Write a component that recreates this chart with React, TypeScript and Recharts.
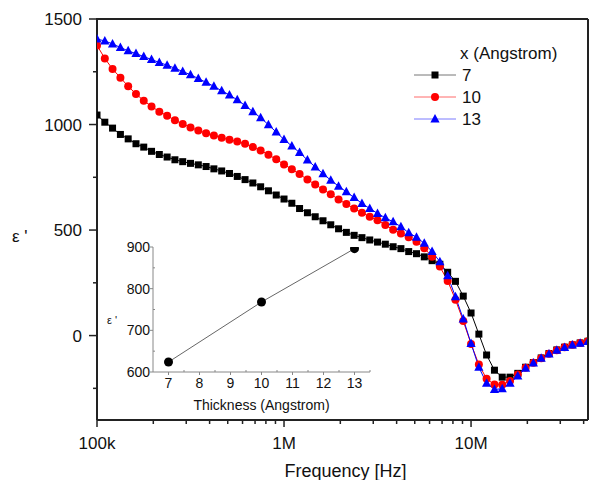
import React from 'react';
import { LineChart, Line, XAxis, YAxis } from 'recharts';

// frequency sweep (Hz), 24 points per decade
const freqs = [
  1.0e5, 1.101e5, 1.211e5, 1.334e5, 1.468e5, 1.616e5, 1.778e5, 1.957e5, 2.154e5, 2.371e5, 2.61e5, 2.873e5,
  3.162e5, 3.481e5, 3.831e5, 4.217e5, 4.642e5, 5.109e5, 5.623e5, 6.19e5, 6.813e5, 7.499e5, 8.254e5, 9.085e5,
  1.0e6, 1.101e6, 1.211e6, 1.334e6, 1.468e6, 1.616e6, 1.778e6, 1.957e6, 2.154e6, 2.371e6, 2.61e6, 2.873e6,
  3.162e6, 3.481e6, 3.831e6, 4.217e6, 4.642e6, 5.109e6, 5.623e6, 6.19e6, 6.813e6, 7.499e6, 8.254e6, 9.085e6,
  1.0e7, 1.101e7, 1.211e7, 1.334e7, 1.468e7, 1.616e7, 1.778e7, 1.957e7, 2.154e7, 2.371e7, 2.61e7, 2.873e7,
  3.162e7, 3.481e7, 3.831e7, 4.217e7,
];

const eps7 = [
  1045, 1011, 983, 953, 932, 909, 893, 873, 858, 846,
  833, 824, 816, 809, 801, 790, 780, 768, 754, 739,
  723, 705, 686, 666, 647, 627, 602, 582, 563, 544,
  525, 506, 489, 475, 464, 453, 443, 433, 421, 412,
  398, 388, 373, 355, 338, 300, 257, 187, 107, 7,
  -92, -164, -197, -197, -179, -150, -128, -106, -85, -68,
  -55, -44, -35, -27,
];

const eps10 = [
  1375, 1313, 1263, 1222, 1181, 1145, 1113, 1086, 1061, 1042,
  1020, 1003, 986, 972, 959, 948, 937, 928, 920, 909,
  893, 877, 857, 835, 811, 788, 765, 739, 716, 692,
  670, 645, 623, 602, 582, 563, 547, 524, 502, 484,
  466, 445, 414, 374, 327, 259, 170, 69, -40, -137,
  -205, -232, -233, -215, -185, -153, -129, -107, -86, -69,
  -55, -44, -35, -27,
];

const eps13 = [
  1405, 1396, 1382, 1365, 1349, 1336, 1322, 1308, 1294, 1281,
  1267, 1251, 1236, 1218, 1200, 1181, 1160, 1140, 1117, 1090,
  1061, 1032, 999, 964, 929, 898, 867, 832, 799, 767,
  736, 708, 681, 654, 626, 602, 579, 558, 539, 516,
  487, 466, 437, 398, 350, 283, 184, 79, -37, -150,
  -226, -255, -252, -226, -192, -155, -130, -108, -87, -70,
  -56, -45, -36, -28,
];

const freqMax = 4.22e7;
const freqMajor = [1e5, 1e6, 1e7];
const freqMajorLabels = ['100k', '1M', '10M'];
const freqMinor = [2e5, 3e5, 4e5, 5e5, 6e5, 7e5, 8e5, 9e5, 2e6, 3e6, 4e6, 5e6, 6e6, 7e6, 8e6, 9e6, 2e7, 3e7, 4e7];
const epsMax = 1500;
const epsMajor = [0, 500, 1000, 1500];
const epsMinor = [-250, 250, 750, 1250];

// inset: epsilon' vs thickness
const thickness = [7, 10, 13];
const epsThick = [624, 768, 896];
const thickTicks = [7, 8, 9, 10, 11, 12, 13];
const thickMinor = [7.5, 8.5, 9.5, 10.5, 11.5, 12.5, 13.5];
const insetYTicks = [600, 700, 800, 900];
const insetYMinor = [650, 750, 850];

const FONT = '"Liberation Sans", Arial, sans-serif';
const AXIS = '#222';
const PLOT_W = 491;
const PLOT_H = 401;

const data = freqs.map((f, i) => ({ f, a: eps7[i], b: eps10[i], c: eps13[i] }));
const insetData = thickness.map((t, i) => ({ t, e: epsThick[i] }));

const SquareDot = (p: any) =>
  p.cx == null ? null : <rect key={p.key} x={p.cx - 3.5} y={p.cy - 3.5} width={7} height={7} fill="#000" />;
const CircleDot = (p: any) =>
  p.cx == null ? null : <circle key={p.key} cx={p.cx} cy={p.cy} r={4} fill="#ff0000" />;
const TriDot = (p: any) =>
  p.cx == null ? null : (
    <polygon
      key={p.key}
      points={`${p.cx},${p.cy - 5} ${p.cx - 4.6},${p.cy + 3.5} ${p.cx + 4.6},${p.cy + 3.5}`}
      fill="#0000ff"
    />
  );

const series = [
  { key: 'a', name: '7', color: '#000000', line: '#777777', Dot: SquareDot },
  { key: 'b', name: '10', color: '#ff0000', line: '#ff6a6a', Dot: CircleDot },
  { key: 'c', name: '13', color: '#0000ff', line: '#7a7aff', Dot: TriDot },
];

// bottom ticks; the tick at the domain end draws the right edge of the box
function FreqTick({ x, y, payload }: any) {
  if (payload.value === freqMax) {
    return <line x1={x} y1={y} x2={x} y2={y - PLOT_H} stroke={AXIS} strokeWidth={2} />;
  }
  const i = freqMajor.indexOf(payload.value);
  const major = i >= 0;
  return (
    <g>
      <line x1={x} y1={y} x2={x} y2={y + (major ? 7 : 4)} stroke={AXIS} strokeWidth={1.5} />
      {major && (
        <text x={x} y={y + 29} textAnchor="middle" fontSize={17} fontFamily={FONT} fill="#111">
          {freqMajorLabels[i]}
        </text>
      )}
    </g>
  );
}

// left ticks; the top tick also draws the top edge of the box
function EpsTick({ x, y, payload }: any) {
  const major = epsMajor.includes(payload.value);
  return (
    <g>
      {payload.value === epsMax && (
        <line x1={x - 1} y1={y} x2={x + PLOT_W} y2={y} stroke={AXIS} strokeWidth={2} />
      )}
      <line x1={x} y1={y} x2={x - (major ? 8 : 4)} y2={y} stroke={AXIS} strokeWidth={1.5} />
      {major && (
        <text x={x - 15} y={y + 6} textAnchor="end" fontSize={17} fontFamily={FONT} fill="#111">
          {payload.value}
        </text>
      )}
    </g>
  );
}

function ThickTick({ x, y, payload }: any) {
  const major = thickTicks.includes(payload.value);
  return (
    <g>
      <line x1={x} y1={y} x2={x} y2={y + (major ? 3 : -2)} stroke="#888" strokeWidth={1} />
      {major && (
        <text x={x} y={y + 16} textAnchor="middle" fontSize={14} fontFamily={FONT} fill="#111">
          {payload.value}
        </text>
      )}
    </g>
  );
}

function InsetYTick({ x, y, payload }: any) {
  const major = insetYTicks.includes(payload.value);
  return (
    <g>
      <line x1={x} y1={y} x2={x + (major ? -3 : 2)} y2={y} stroke="#888" strokeWidth={1} />
      {major && (
        <text x={x - 3} y={y + 5} textAnchor="end" fontSize={14} fontFamily={FONT} fill="#111">
          {payload.value}
        </text>
      )}
    </g>
  );
}

function LegendBox() {
  return (
    <svg width={180} height={100}>
      <text x={55} y={24} fontSize={17} fontFamily={FONT} fill="#111">
        x (Angstrom)
      </text>
      {series.map((s, i) => {
        const cy = 40 + i * 22;
        const Dot = s.Dot;
        return (
          <g key={s.key}>
            <line x1={9} y1={cy} x2={51} y2={cy} stroke={s.line} strokeWidth={1} />
            <Dot cx={30} cy={cy} />
            <text x={57} y={cy + 6} fontSize={17} fontFamily={FONT} fill="#111">
              {s.name}
            </text>
          </g>
        );
      })}
    </svg>
  );
}

export default function App() {
  return (
    <div style={{ position: 'absolute', left: 0, top: 0, width: 593, height: 480, background: '#fff' }}>
      <LineChart width={593} height={480} data={data} margin={{ top: 19, right: 5, left: 37, bottom: 20 }}>
        <XAxis
          dataKey="f"
          type="number"
          scale="log"
          domain={[1e5, freqMax]}
          allowDataOverflow
          ticks={[...freqMajor, ...freqMinor, freqMax]}
          interval={0}
          tick={<FreqTick />}
          tickSize={0}
          tickMargin={0}
          tickLine={false}
          height={40}
          axisLine={{ stroke: AXIS, strokeWidth: 2 }}
          label={{
            content: ({ viewBox }: any) => (
              <text
                x={viewBox.x + viewBox.width / 2 + 3}
                y={477}
                textAnchor="middle"
                fontSize={18}
                fontFamily={FONT}
                fill="#111"
              >
                Frequency [Hz]
              </text>
            ),
          }}
        />
        <YAxis
          type="number"
          domain={[-400, epsMax]}
          allowDataOverflow
          ticks={[...epsMajor, ...epsMinor]}
          interval={0}
          tick={<EpsTick />}
          tickSize={0}
          tickMargin={0}
          tickLine={false}
          width={60}
          axisLine={{ stroke: AXIS, strokeWidth: 2 }}
          label={{
            content: () => (
              <text x={12} y={242} fontSize={17} fontFamily={FONT} fill="#111">
                ε '
              </text>
            ),
          }}
        />
        {series.map((s) => (
          <Line
            key={s.key}
            dataKey={s.key}
            name={s.name}
            type="linear"
            stroke={s.color}
            strokeWidth={1}
            dot={<s.Dot />}
            activeDot={false}
            isAnimationActive={false}
          />
        ))}
      </LineChart>

      <div style={{ position: 'absolute', left: 405, top: 35 }}>
        <LegendBox />
      </div>

      <div style={{ position: 'absolute', left: 100, top: 230 }}>
        <LineChart width={275} height={188} data={insetData} margin={{ top: 17, right: 5, left: 13, bottom: 8 }}>
          <XAxis
            dataKey="t"
            type="number"
            domain={[6.5, 13.5]}
            allowDataOverflow
            ticks={[...thickTicks, ...thickMinor]}
            interval={0}
            tick={<ThickTick />}
            tickSize={0}
            tickMargin={0}
            tickLine={false}
            height={38}
            axisLine={{ stroke: '#888', strokeWidth: 1 }}
            label={{
              content: ({ viewBox }: any) => (
                <text
                  x={viewBox.x + viewBox.width / 2}
                  y={180}
                  textAnchor="middle"
                  fontSize={14}
                  fontFamily={FONT}
                  fill="#111"
                >
                  Thickness (Angstrom)
                </text>
              ),
            }}
          />
          <YAxis
            type="number"
            domain={[600, 900]}
            allowDataOverflow
            ticks={[...insetYTicks, ...insetYMinor]}
            interval={0}
            tick={<InsetYTick />}
            tickSize={0}
            tickMargin={0}
            tickLine={false}
            width={40}
            axisLine={{ stroke: '#888', strokeWidth: 1 }}
            label={{
              content: () => (
                <text x={7} y={94} fontSize={11} fontFamily={FONT} fill="#111">
                  ε '
                </text>
              ),
            }}
          />
          <Line
            dataKey="e"
            type="linear"
            stroke="#666"
            strokeWidth={1}
            dot={{ r: 4.5, fill: '#000', stroke: '#000', strokeWidth: 0 }}
            activeDot={false}
            isAnimationActive={false}
          />
        </LineChart>
      </div>
    </div>
  );
}
